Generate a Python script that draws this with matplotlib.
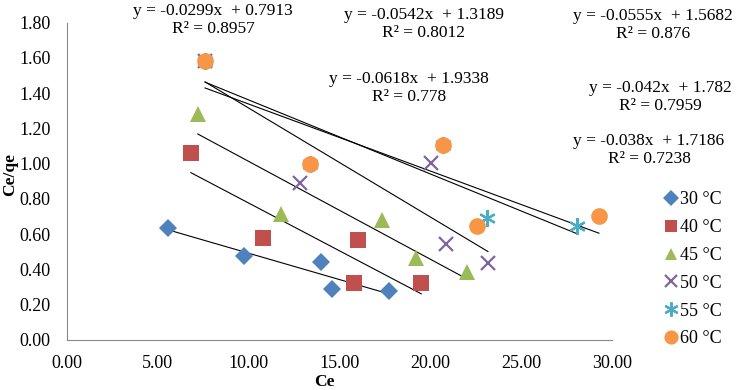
import matplotlib
matplotlib.use("Agg")
import matplotlib.pyplot as plt
import numpy as np

plt.rcParams['font.family'] = ['Liberation Serif', 'DejaVu Serif']

labels = ["30 °C", "40 °C", "45 °C", "50 °C", "55 °C", "60 °C"]
colors = ["#4F81BD", "#C0504D", "#9BBB59", "#8064A2", "#4BACC6", "#F79646"]
markers = ["D", "s", "^", "x", "*", "o"]

ce_30 = [5.56, 9.74, 13.98, 14.60, 17.70]
y_30 = [0.636, 0.477, 0.443, 0.290, 0.278]
ce_40 = [6.82, 10.77, 16.00, 15.80, 19.50]
y_40 = [1.062, 0.580, 0.568, 0.324, 0.324]
ce_45 = [7.20, 11.77, 17.35, 19.20, 22.00]
y_45 = [1.280, 0.716, 0.680, 0.466, 0.386]
ce_50 = [7.60, 12.82, 20.03, 20.86, 23.17]
y_50 = [1.585, 0.890, 1.005, 0.545, 0.437]
ce_55 = [7.60, 13.37, 20.69, 23.10, 28.07]
y_55 = [1.585, 1.000, 1.108, 0.693, 0.647]
ce_60 = [7.60, 13.37, 20.69, 22.56, 29.28]
y_60 = [1.585, 1.000, 1.108, 0.647, 0.705]

slopes = [-0.0299, -0.0542, -0.0555, -0.0618, -0.042, -0.038]
intercepts = [0.7913, 1.3189, 1.5682, 1.9338, 1.782, 1.7186]
r2 = ["0.8957", "0.8012", "0.876", "0.778", "0.7959", "0.7238"]

xs = [ce_30, ce_40, ce_45, ce_50, ce_55, ce_60]
ys = [y_30, y_40, y_45, y_50, y_55, y_60]

fig = plt.figure(figsize=(7.36, 3.90), dpi=100)
ax = fig.add_axes([67/736, 1-340/390, (612-67)/736, (340-22.7)/390])

msizes = [9, 11, 11, 10, 12, 12]
handles = []
for x, y, c, m, lab, ms in zip(xs, ys, colors, markers, labels, msizes):
    if m == "x":
        h, = ax.plot(x, y, linestyle='none', marker=m, color=c, markersize=ms,
                     markeredgewidth=1.6, label=lab, zorder=3)
    elif m == "*":
        h, = ax.plot(x, y, linestyle='none', marker=(6, 2, 0), color=c, markersize=ms,
                     markeredgewidth=1.6, label=lab, zorder=3)
    else:
        h, = ax.plot(x, y, linestyle='none', marker=m, color=c, markersize=ms,
                     markeredgewidth=0, label=lab, zorder=3)
    handles.append(h)

for x, s, b in zip(xs, slopes, intercepts):
    xx = np.array([min(x), max(x)])
    ax.plot(xx, s*xx + b, color='black', linewidth=0.8, zorder=2)

ax.set_xlim(0, 30)
ax.set_ylim(0, 1.80)
ax.set_xticks(np.arange(0, 30.1, 5))
ax.set_xticklabels([f"{v:.2f}" for v in np.arange(0, 30.1, 5)])
ax.set_yticks(np.arange(0, 1.81, 0.2))
ax.set_yticklabels([f"{v:.2f}" for v in np.arange(0, 1.81, 0.2)])
ax.tick_params(axis='x', length=0, labelsize=13, pad=11)
ax.tick_params(axis='y', length=0, labelsize=13, pad=12)
for sp in ['top', 'right']:
    ax.spines[sp].set_visible(False)
for sp in ['left', 'bottom']:
    ax.spines[sp].set_color('#888888')
    ax.spines[sp].set_linewidth(0.8)

# equation labels (pixel positions -> figure fraction)
eq_pos = [(213, 20), (424, 24), (653, 25), (409, 88), (660, 97), (649, 150)]
for (px, py), s, b, r in zip(eq_pos, slopes, intercepts, r2):
    txt = f"y = {s}x  + {b}\nR² = {r}"
    fig.text(px/736, 1-py/390, txt, ha='center', va='center', fontsize=12.5,
             linespacing=1.2)

fig.text(10/736, 1-175/390, "Ce/qe", rotation=90, ha='center', va='center',
         fontsize=12.5, fontweight='bold')
fig.text(324/736, 1-382/390, "Ce", ha='center', va='center',
         fontsize=12.5, fontweight='bold')

leg = fig.legend(handles=handles, loc='upper left', bbox_to_anchor=(655/736, 1-184/390),
                 frameon=False, fontsize=13, handletextpad=0.0, handlelength=1.0,
                 labelspacing=0.6, borderaxespad=0, markerscale=0.85)

fig.savefig("out.png", dpi=100)
